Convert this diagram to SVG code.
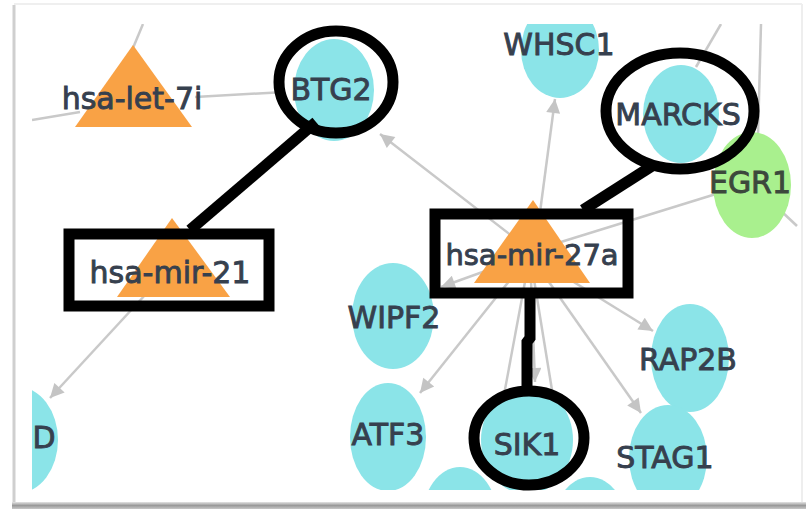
<svg xmlns="http://www.w3.org/2000/svg" width="806" height="509" viewBox="0 0 806 509">
<style>
.edge{stroke:#c9c9c9;stroke-width:2.5;fill:none}
.arr{marker-end:url(#ah)}
.gene{fill:#8be4e8}
.mir{fill:#f9a245}
.tf{fill:#a9f08e}
.lbl{font-family:"DejaVu Sans",Verdana,sans-serif;font-size:30px;fill:#36404e;stroke:#36404e;stroke-width:0.9;text-anchor:middle}
.hl{stroke:#000;stroke-width:11;fill:none}
</style>
<defs>
<marker id="ah" viewBox="0 0 10 10" refX="10" refY="5" markerUnits="userSpaceOnUse" markerWidth="16" markerHeight="14" orient="auto">
<path d="M0,0 L10,5 L0,10 z" fill="#c4c4c4"/>
</marker>
<clipPath id="view"><rect x="32" y="24" width="766" height="466"/></clipPath>
<linearGradient id="bar" x1="0" y1="0" x2="0" y2="1">
<stop offset="0" stop-color="#e4e4e4"/><stop offset="0.5" stop-color="#9a9a9a"/><stop offset="1" stop-color="#c8c8c8"/>
</linearGradient>
</defs>
<rect width="806" height="509" fill="#ffffff"/>
<g id="frame">
<line x1="14" y1="5" x2="14" y2="503" stroke="#cfcfcf" stroke-width="3"/>
<line x1="14" y1="4" x2="802" y2="4" stroke="#efefef" stroke-width="2"/>
<line x1="802" y1="4" x2="802" y2="503" stroke="#eeeeee" stroke-width="2"/>
<rect x="12" y="502" width="794" height="7" fill="url(#bar)"/>
</g>
<g clip-path="url(#view)">
<g id="connectors">
<line class="edge" x1="195" y1="97" x2="285" y2="92"/>
<line class="edge" x1="32" y1="120" x2="80" y2="112"/>
<line class="edge" x1="133" y1="48" x2="143" y2="24"/>
<line class="edge arr" x1="530" y1="250" x2="380" y2="134"/>
<line class="edge arr" x1="535" y1="250" x2="555" y2="99"/>
<line class="edge" x1="535" y1="250" x2="716" y2="194"/>
<line class="edge" x1="696" y1="67" x2="721" y2="24"/>
<line class="edge" x1="761" y1="24" x2="758" y2="135"/>
<line class="edge" x1="780" y1="210" x2="797" y2="226"/>
<line class="edge arr" x1="170" y1="268" x2="50" y2="398"/>
<line class="edge arr" x1="530" y1="255" x2="441" y2="287"/>
<line class="edge arr" x1="530" y1="255" x2="420" y2="393"/>
<line class="edge" x1="530" y1="255" x2="490" y2="470"/>
<line class="edge arr" x1="530" y1="255" x2="535" y2="382"/>
<line class="edge" x1="530" y1="255" x2="566" y2="476"/>
<line class="edge arr" x1="530" y1="255" x2="641" y2="413"/>
<line class="edge arr" x1="530" y1="255" x2="653" y2="331"/>
</g>
<g id="n-D"><ellipse class="gene" cx="18" cy="440" rx="40" ry="53"/><text class="lbl" x="44" y="448">D</text></g>
<g id="n-bottom1"><ellipse class="gene" cx="460" cy="520" rx="38" ry="53"/></g>
<g id="n-bottom2"><ellipse class="gene" cx="590" cy="530" rx="38" ry="53"/></g>
<g id="n-WHSC1"><ellipse class="gene" cx="560" cy="50" rx="39" ry="48"/><text class="lbl" x="559" y="55">WHSC1</text></g>
<g id="n-BTG2"><ellipse class="gene" cx="334" cy="90" rx="40" ry="51"/><text class="lbl" x="331" y="100">BTG2</text></g>
<g id="n-EGR1"><ellipse class="tf" cx="752" cy="185" rx="39" ry="53"/><text class="lbl" x="750" y="193" style="fill:#3c483c;stroke:#3c483c">EGR1</text></g>
<g id="n-MARCKS"><ellipse class="gene" cx="681" cy="114" rx="38" ry="49"/><text class="lbl" x="678" y="125">MARCKS</text></g>
<g id="n-WIPF2"><ellipse class="gene" cx="393" cy="316" rx="41" ry="53"/><text class="lbl" x="394" y="328">WIPF2</text></g>
<g id="n-ATF3"><ellipse class="gene" cx="388" cy="437" rx="38" ry="54"/><text class="lbl" x="388" y="445">ATF3</text></g>
<g id="n-RAP2B"><ellipse class="gene" cx="690" cy="358" rx="39" ry="54"/><text class="lbl" x="688" y="370">RAP2B</text></g>
<g id="n-STAG1"><ellipse class="gene" cx="668" cy="458" rx="39" ry="53"/><text class="lbl" x="665" y="468">STAG1</text></g>
<g id="n-SIK1"><ellipse class="gene" cx="527" cy="440" rx="46" ry="54"/><text class="lbl" x="527" y="455">SIK1</text></g>
<g id="n-hsa-let-7i"><polygon class="mir" points="133,45 192,127 75,127"/><text class="lbl" x="132" y="109">hsa-let-7i</text></g>
<g id="n-hsa-mir-21"><polygon class="mir" points="172,218 230,297 117,297"/><text class="lbl" x="170" y="283">hsa-mir-21</text></g>
<g id="n-hsa-mir-27a"><polygon class="mir" points="533,200 590,283 474,283"/><text class="lbl" x="532" y="265" style="font-size:29px">hsa-mir-27a</text></g>
</g>
<g id="highlights">
<ellipse class="hl" cx="336" cy="82" rx="57" ry="51"/>
<ellipse class="hl" cx="680" cy="111" rx="74" ry="58"/>
<ellipse class="hl" cx="529" cy="438" rx="55" ry="47"/>
<rect class="hl" x="69" y="234" width="200" height="72" stroke-width="12"/>
<rect class="hl" x="435" y="214" width="193" height="79" stroke-width="13"/>
<line class="hl" x1="316" y1="122" x2="190" y2="230" stroke-width="12"/>
<line class="hl" x1="652" y1="166" x2="583" y2="210" stroke-width="12"/>
<polyline class="hl" points="530,292 530,338 527,342 527,392" stroke-width="12"/>
</g>
</svg>
